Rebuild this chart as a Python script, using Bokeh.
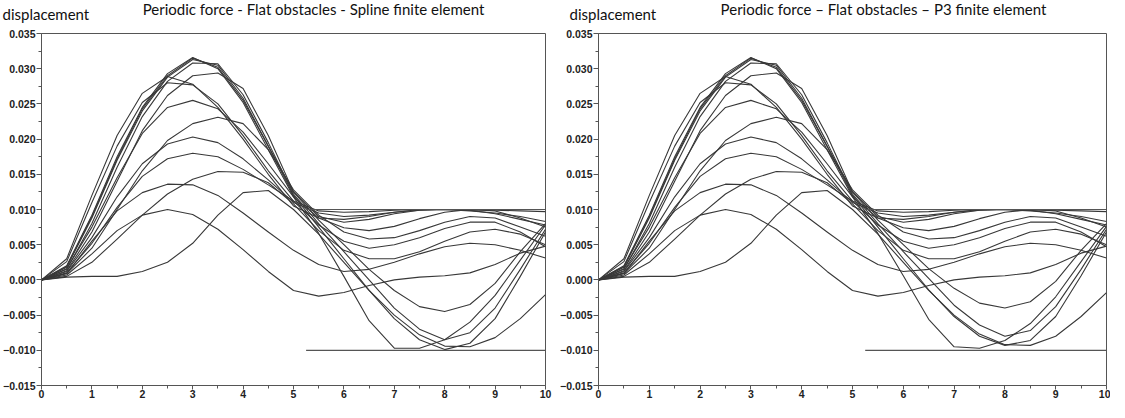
from bokeh.plotting import figure
from bokeh.layouts import row, column
from bokeh.models import Range1d, FixedTicker, ColumnDataSource
from bokeh.embed import file_html
from bokeh.resources import INLINE
from bokeh.core.properties import value

# ---------------- data ----------------
x_pos = [0, 0.5, 1, 1.5, 2, 2.5, 3, 3.5, 4, 4.5, 5, 5.5, 6, 6.5, 7, 7.5, 8, 8.5, 9, 9.5, 10]

# left panel: spline finite element
spline_c01 = [0, .0020, .0092, .0175, .0245, .0293, .0316, .0300, .0252, .0185, .0118, .0066, .0005, -.0058, -.0097, -.0097, -.0085, -.0060, -.0022, .0028, .0078]
spline_c02 = [0, .0018, .0088, .0170, .0240, .0288, .0313, .0305, .0258, .0190, .0120, .0075, .0030, -.0015, -.0055, -.0085, -.0099, -.0090, -.0055, .0005, .0068]
spline_c03 = [0, .0015, .0080, .0160, .0232, .0282, .0308, .0307, .0263, .0195, .0122, .0080, .0040, .0000, -.0040, -.0070, -.0085, -.0075, -.0040, .0015, .0072]
spline_c04 = [0, .0013, .0068, .0140, .0212, .0262, .0290, .0294, .0272, .0205, .0125, .0090, .0082, .0086, .0094, .0099, .0100, .0099, .0094, .0086, .0078]
spline_c05 = [0, .0030, .0120, .0205, .0265, .0289, .0278, .0245, .0200, .0150, .0105, .0088, .0086, .0090, .0096, .0100, .0100, .0099, .0100, .0100, .0100]
spline_c06 = [0, .0026, .0110, .0190, .0252, .0280, .0277, .0250, .0205, .0155, .0112, .0098, .0096, .0097, .0099, .0100, .0100, .0100, .0099, .0098, .0097]
spline_c07 = [0, .0016, .0075, .0145, .0208, .0245, .0255, .0243, .0210, .0165, .0118, .0088, .0074, .0070, .0076, .0087, .0096, .0100, .0098, .0088, .0075]
spline_c08 = [0, .0009, .0045, .0100, .0155, .0198, .0222, .0231, .0222, .0185, .0128, .0092, .0068, .0058, .0060, .0070, .0082, .0090, .0088, .0075, .0062]
spline_c09 = [0, .0012, .0060, .0118, .0165, .0193, .0203, .0195, .0172, .0142, .0110, .0095, .0090, .0092, .0096, .0099, .0100, .0098, .0095, .0090, .0083]
spline_c10 = [0, .0010, .0052, .0103, .0147, .0172, .0180, .0175, .0157, .0135, .0112, .0078, .0055, .0045, .0050, .0060, .0073, .0082, .0082, .0068, .0047]
spline_c11 = [0, .0005, .0025, .0058, .0092, .0122, .0143, .0154, .0153, .0138, .0108, .0070, .0042, .0030, .0030, .0040, .0055, .0068, .0072, .0065, .0050]
spline_c12 = [0, .0009, .0055, .0098, .0124, .0136, .0135, .0120, .0095, .0068, .0042, .0022, .0012, .0015, .0025, .0037, .0047, .0052, .0050, .0042, .0031]
spline_c13 = [0, .0007, .0037, .0070, .0092, .0100, .0093, .0072, .0043, .0012, -.0015, -.0023, -.0018, -.0008, .0000, .0004, .0006, .0010, .0022, .0038, .0048]
spline_c14 = [0, .0004, .0005, .0005, .0012, .0025, .0052, .0092, .0124, .0127, .0100, .0065, .0025, -.0015, -.0050, -.0078, -.0094, -.0095, -.0082, -.0055, -.0021]
spline_c15 = [0, .0019, .0090, .0172, .0243, .0290, .0315, .0302, .0255, .0190, .0125, .0085, .0050, .0015, -.0015, -.0038, -.0045, -.0035, -.0005, .0040, .0080]

# right panel: P3 finite element
p3_c01 = [0, .0020, .0092, .0175, .0245, .0293, .0316, .0300, .0252, .0185, .0118, .0066, .0006, -.0056, -.0095, -.0097, -.0086, -.0062, -.0024, .0026, .0076]
p3_c02 = [0, .0018, .0088, .0170, .0240, .0288, .0313, .0305, .0258, .0190, .0120, .0075, .0030, -.0014, -.0052, -.0080, -.0093, -.0086, -.0052, .0006, .0068]
p3_c03 = [0, .0015, .0080, .0160, .0232, .0282, .0308, .0307, .0263, .0195, .0122, .0080, .0040, .0002, -.0036, -.0064, -.0080, -.0072, -.0038, .0015, .0072]
p3_c04 = [0, .0013, .0068, .0140, .0212, .0262, .0290, .0294, .0272, .0205, .0125, .0090, .0082, .0086, .0094, .0099, .0100, .0099, .0094, .0086, .0078]
p3_c05 = [0, .0030, .0120, .0205, .0265, .0289, .0278, .0245, .0200, .0150, .0105, .0088, .0086, .0090, .0096, .0100, .0100, .0099, .0100, .0100, .0100]
p3_c06 = [0, .0026, .0110, .0190, .0252, .0280, .0277, .0250, .0205, .0155, .0112, .0098, .0096, .0097, .0099, .0100, .0100, .0100, .0099, .0098, .0097]
p3_c07 = [0, .0016, .0075, .0145, .0208, .0245, .0255, .0243, .0210, .0165, .0118, .0088, .0074, .0070, .0076, .0087, .0096, .0100, .0098, .0088, .0075]
p3_c08 = [0, .0009, .0045, .0100, .0155, .0198, .0222, .0231, .0222, .0185, .0128, .0092, .0068, .0058, .0060, .0070, .0082, .0090, .0088, .0075, .0062]
p3_c09 = [0, .0012, .0060, .0118, .0165, .0193, .0203, .0195, .0172, .0142, .0110, .0095, .0090, .0092, .0096, .0099, .0100, .0098, .0095, .0090, .0083]
p3_c10 = [0, .0010, .0052, .0103, .0147, .0172, .0180, .0175, .0157, .0135, .0112, .0078, .0055, .0045, .0050, .0060, .0073, .0082, .0082, .0068, .0047]
p3_c11 = [0, .0005, .0025, .0058, .0092, .0122, .0143, .0154, .0153, .0138, .0108, .0070, .0042, .0030, .0030, .0040, .0055, .0068, .0072, .0065, .0050]
p3_c12 = [0, .0009, .0055, .0098, .0124, .0136, .0135, .0120, .0095, .0068, .0042, .0022, .0012, .0015, .0025, .0037, .0047, .0052, .0050, .0042, .0031]
p3_c13 = [0, .0007, .0037, .0070, .0092, .0100, .0093, .0072, .0043, .0012, -.0015, -.0023, -.0018, -.0008, .0000, .0004, .0006, .0010, .0022, .0038, .0048]
p3_c14 = [0, .0004, .0005, .0005, .0012, .0025, .0052, .0092, .0124, .0127, .0100, .0065, .0025, -.0015, -.0050, -.0077, -.0092, -.0093, -.0080, -.0052, -.0018]
p3_c15 = [0, .0019, .0090, .0172, .0243, .0290, .0315, .0302, .0255, .0190, .0125, .0085, .0050, .0016, -.0012, -.0033, -.0040, -.0031, -.0002, .0042, .0080]

spline_curves = [spline_c01, spline_c02, spline_c03, spline_c04, spline_c05, spline_c06, spline_c07,
                 spline_c08, spline_c09, spline_c10, spline_c11, spline_c12, spline_c13, spline_c14, spline_c15]
p3_curves = [p3_c01, p3_c02, p3_c03, p3_c04, p3_c05, p3_c06, p3_c07,
             p3_c08, p3_c09, p3_c10, p3_c11, p3_c12, p3_c13, p3_c14, p3_c15]

obstacle_x = [5.25, 10]
obstacle_levels = [0.010, -0.010]

y_ticks = [-0.015, -0.010, -0.005, 0.000, 0.005, 0.010, 0.015, 0.020, 0.025, 0.030, 0.035]
y_tick_labels = ["\u22120.015", "\u22120.010", "\u22120.005", "0.000", "0.005", "0.010",
                 "0.015", "0.020", "0.025", "0.030", "0.035"]
x_ticks = [0, 1, 2, 3, 4, 5, 6, 7, 8, 9, 10]

titles = ["Periodic force - Flat obstacles - Spline finite element",
          "Periodic force \u2013 Flat obstacles \u2013 P3 finite element"]
y_label = "displacement"

# ---------------- styling ----------------
CURVE = "#383838"
AXIS = "#555555"
FONT = "Liberation Sans"
TFONT = "Lato"
HEADER_H = 26


def make_panel(curves, border_left, border_right, frame_w):
    p = figure(frame_width=frame_w, frame_height=352,
               min_border_left=border_left, min_border_right=border_right,
               min_border_top=7, min_border_bottom=0,
               x_range=Range1d(0, 10), y_range=Range1d(-0.015, 0.035),
               output_backend="svg", toolbar_location=None,
               background_fill_color="white", border_fill_color="white")
    p.grid.visible = False
    p.outline_line_color = AXIS
    p.outline_line_width = 1

    for ax in (p.xaxis, p.yaxis):
        ax.axis_line_color = AXIS
        ax.major_tick_line_color = AXIS
        ax.minor_tick_line_color = AXIS
        ax.major_tick_in = 0
        ax.major_tick_out = 5
        ax.minor_tick_in = 0
        ax.minor_tick_out = 3
        ax.major_label_text_font = FONT
        ax.major_label_text_font_style = "bold"
        ax.major_label_text_font_size = "10.5px"
        ax.major_label_text_color = "#222222"
        ax.major_label_standoff = 1
    p.xaxis.major_tick_out = 4
    p.xaxis.major_label_standoff = 0

    p.xaxis.ticker = FixedTicker(ticks=x_ticks, minor_ticks=[t + 0.5 for t in x_ticks[:-1]])
    p.yaxis.ticker = FixedTicker(ticks=y_ticks, minor_ticks=[t + 0.0025 for t in y_ticks[:-1]])
    p.yaxis.major_label_overrides = {t: s for t, s in zip(y_ticks, y_tick_labels)}

    for ys in curves:
        p.line(x_pos, ys, line_color=CURVE, line_width=1.1, line_join="round")
    for lev in obstacle_levels:
        p.line(obstacle_x, [lev, lev], line_color="#555555", line_width=1.2)
    return p


# header strip holding the panel titles and the y-axis captions (pixel coordinates)
header = figure(width=1109, height=HEADER_H, x_range=Range1d(0, 1109), y_range=Range1d(0, HEADER_H),
                min_border=0, output_backend="svg", toolbar_location=None)
header.axis.visible = False
header.grid.visible = False
header.outline_line_color = None
header_src = ColumnDataSource(dict(
    x=[2, 569],
    y=[13, 13],
    text=[y_label, y_label],
))
header.text(x="x", y="y", text="text", source=header_src, text_font=value(TFONT),
            text_font_size="15px", text_color="#111111", text_baseline="middle", text_align="left")
title_src = ColumnDataSource(dict(
    x=[313, 883],
    y=[18, 18],
    text=titles,
))
header.text(x="x", y="y", text="text", source=title_src, text_font=value(TFONT),
            text_font_size="15px", text_color="#111111", text_baseline="middle", text_align="center")

p1 = make_panel(spline_curves, 40, 12, 504)
p2 = make_panel(p3_curves, 41, 4, 508)

layout = column(header, row(p1, p2, spacing=0), spacing=0)
open("out.html", "w").write(file_html(layout, INLINE))
